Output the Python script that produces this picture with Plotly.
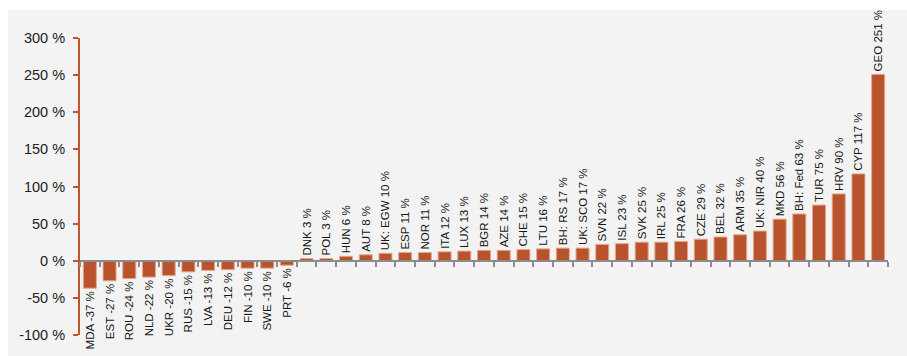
import plotly.graph_objects as go

# Region codes and percentage change, sorted ascending
regions = [
    "MDA", "EST", "ROU", "NLD", "UKR", "RUS", "LVA", "DEU", "FIN", "SWE", "PRT",
    "DNK", "POL", "HUN", "AUT", "UK: EGW", "ESP", "NOR", "ITA", "LUX", "BGR",
    "AZE", "CHE", "LTU", "BH: RS", "UK: SCO", "SVN", "ISL", "SVK", "IRL", "FRA",
    "CZE", "BEL", "ARM", "UK: NIR", "MKD", "BH: Fed", "TUR", "HRV", "CYP", "GEO",
]
change_pct = [
    -37, -27, -24, -22, -20, -15, -13, -12, -10, -10, -6,
    3, 3, 6, 8, 10, 11, 11, 12, 13, 14,
    14, 15, 16, 17, 17, 22, 23, 25, 25, 26,
    29, 32, 35, 40, 56, 63, 75, 90, 117, 251,
]
y_ticks = [-100, -50, 0, 50, 100, 150, 200, 250, 300]
y_tick_text = [f"{v} %" for v in y_ticks]

FONT = "Liberation Sans, Arial, sans-serif"
BAR = "#b9532d"
AXIS_ORANGE = "#c0552d"
GREY = "#8c8c8c"

labels = [f"{r} {v} %" for r, v in zip(regions, change_pct)]

fig = go.Figure(
    go.Bar(
        x=regions,
        y=change_pct,
        text=labels,
        textposition="outside",
        textangle=-90,
        constraintext="none",
        cliponaxis=False,
        textfont=dict(family=FONT, size=11.5, color="#161616"),
        marker=dict(color=BAR, line=dict(color="#e3a88c", width=1)),
        hoverinfo="skip",
    )
)

y_min, y_max = y_ticks[0], y_ticks[-1]
zero_frac = (0 - y_min) / (y_max - y_min)

fig.update_layout(
    width=907,
    height=356,
    margin=dict(l=80, r=19, t=38, b=21),
    paper_bgcolor="white",
    plot_bgcolor="rgba(0,0,0,0)",
    bargap=0.34,
    showlegend=False,
    font=dict(family=FONT, color="#222222"),
    xaxis=dict(
        type="category",
        anchor="free",
        position=zero_frac,
        showline=True,
        linecolor=GREY,
        linewidth=2,
        ticks="outside",
        tickson="boundaries",
        ticklen=5,
        tickwidth=2,
        tickcolor=GREY,
        showticklabels=False,
        showgrid=False,
        zeroline=False,
    ),
    yaxis=dict(
        range=[y_min, y_max],
        tickvals=y_ticks,
        ticktext=y_tick_text,
        showline=True,
        linecolor=AXIS_ORANGE,
        linewidth=2,
        ticks="outside",
        ticklen=5,
        tickwidth=2,
        tickcolor=AXIS_ORANGE,
        ticklabelstandoff=5,
        tickfont=dict(family=FONT, size=14.5, color="#222222"),
        showgrid=False,
        zeroline=False,
    ),
    shapes=[
        dict(
            type="rect",
            xref="paper",
            yref="paper",
            x0=-72 / 808,
            x1=1 + 19 / 808,
            y0=-21 / 297,
            y1=1 + 28 / 297,
            fillcolor="#f2f3f2",
            line=dict(width=0),
            layer="below",
        )
    ],
)

fig.write_html("out.html")
